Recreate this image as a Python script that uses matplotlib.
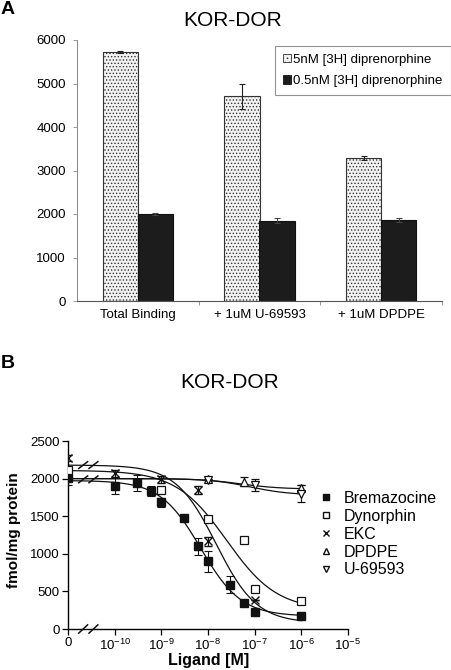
import numpy as np
import matplotlib
matplotlib.use("Agg")
import matplotlib.pyplot as plt
from matplotlib.lines import Line2D
from matplotlib.patches import Patch

plt.rcParams['font.family'] = ['Liberation Sans', 'DejaVu Sans']
plt.rcParams['mathtext.fontset'] = 'custom'
plt.rcParams['mathtext.rm'] = 'Liberation Sans'
plt.rcParams['mathtext.it'] = 'Liberation Sans:italic'
plt.rcParams['mathtext.bf'] = 'Liberation Sans:bold'
plt.rcParams['hatch.color'] = '#9a9a9a'
plt.rcParams['hatch.linewidth'] = 0.6

# ---------------- Panel A data ----------------
categories = ["Total Binding", "+ 1uM U-69593", "+ 1uM DPDPE"]
series_labels = ["5nM [3H] diprenorphine", "0.5nM [3H] diprenorphine"]
high_vals = [5720, 4710, 3280]
high_err = [30, 290, 50]
low_vals = [2000, 1850, 1860]
low_err = [30, 50, 40]

# ---------------- Panel B data ----------------
# concentrations in M; 1e-11 stands for the "0" (no ligand) point
brem_x = [1e-11, 1e-10, 3e-10, 6e-10, 1e-9, 3e-9, 6e-9, 1e-8, 3e-8, 6e-8, 1e-7, 1e-6]
brem_y = [2010, 1905, 1940, 1835, 1685, 1480, 1100, 900, 590, 350, 230, 175]
brem_e = [90, 110, 110, 60, 60, 0, 110, 140, 110, 0, 0, 0]

dyn_x = [1e-11, 1e-9, 1e-8, 6e-8, 1e-7, 1e-6]
dyn_y = [2110, 1850, 1465, 1180, 535, 370]
dyn_e = [40, 30, 0, 0, 0, 0]

ekc_x = [1e-11, 1e-10, 1e-9, 6e-9, 1e-8, 1e-7]
ekc_y = [2280, 2070, 1990, 1848, 1165, 386]
ekc_e = [40, 50, 50, 50, 60, 0]

dpdpe_x = [1e-8, 6e-8, 1e-6]
dpdpe_y = [1990, 1955, 1870]
dpdpe_e = [0, 60, 40]

u69_x = [1e-8, 1e-7, 1e-6]
u69_y = [1985, 1915, 1800]
u69_e = [0, 80, 110]

# sigmoidal fit parameters: (top, bottom, IC50 [M], Hill slope)
fit_params = {
    "Bremazocine": (1975, 170, 7e-9, 1.0),
    "Dynorphin": (2110, 250, 2.5e-8, 0.8),
    "EKC": (2180, 80, 1.5e-8, 1.0),
    "DPDPE": (2000, 1860, 5e-8, 1.0),
    "U-69593": (2000, 1780, 8e-8, 1.0),
}

x_tick_vals = [1e-11, 1e-10, 1e-9, 1e-8, 1e-7, 1e-6, 1e-5]
x_tick_labels = ["0", r"10$^{-10}$", r"10$^{-9}$", r"10$^{-8}$", r"10$^{-7}$",
                 r"10$^{-6}$", r"10$^{-5}$"]

W, H = 452, 670
fig = plt.figure(figsize=(W / 100, H / 100), dpi=100)

def fx(px):
    return px / W

def fy(py):
    return 1 - py / H

# ================= Panel A =================
axA = fig.add_axes([fx(77), fy(301), (442 - 77) / W, (301 - 40) / H])
pos = np.arange(len(categories))
bw = 0.29
axA.bar(pos - 0.145, high_vals, bw, color='#f2f2f2', edgecolor='#333333',
        linewidth=0.8, hatch='.....', zorder=2)
axA.bar(pos + 0.145, low_vals, bw, color='#1c1c1c', edgecolor='#111111',
        linewidth=0.8, zorder=2)
axA.errorbar(pos - 0.145, high_vals, yerr=high_err, fmt='none', ecolor='#222222',
             elinewidth=0.8, capsize=2, capthick=0.8, zorder=3)
axA.errorbar(pos + 0.145, low_vals, yerr=low_err, fmt='none', ecolor='#444444',
             elinewidth=0.8, capsize=2, capthick=0.8, zorder=3)
axA.set_xlim(-0.5, 2.5)
axA.set_ylim(0, 6000)
axA.set_yticks(np.arange(0, 6001, 1000))
axA.set_xticks([0.5, 1.5, 2.5])
axA.set_xticklabels([])
axA.set_xticks(pos, minor=True)
axA.set_xticklabels(categories, minor=True, fontsize=9.5)
axA.tick_params(axis='x', which='major', length=3, direction='out', width=0.6, color='#888888')
axA.tick_params(axis='x', which='minor', length=0, pad=6)
axA.tick_params(axis='y', length=3, width=0.6, labelsize=9.5, pad=5, color='#888888')
for s in ['top', 'right']:
    axA.spines[s].set_visible(False)
axA.spines['left'].set_color('#888888')
axA.spines['bottom'].set_color('#555555')
axA.spines['left'].set_linewidth(0.7)
axA.spines['bottom'].set_linewidth(0.8)

handlesA = [Patch(facecolor='#f2f2f2', edgecolor='#333333', hatch='....', linewidth=0.6),
            Patch(facecolor='#1c1c1c', edgecolor='#111111', linewidth=0.6)]
legA = fig.legend(handlesA, series_labels, loc='upper left',
                  bbox_to_anchor=(fx(275), fy(46)), fontsize=9.5, frameon=True,
                  fancybox=False, edgecolor='#777777', handlelength=0.6,
                  handleheight=0.6, handletextpad=0.2, borderpad=0.6,
                  labelspacing=0.7, borderaxespad=0)
legA.get_frame().set_linewidth(0.8)

fig.text(fx(233), fy(20), "KOR-DOR", fontsize=15, ha='center', va='center')
fig.text(fx(1), fy(10), "A", fontsize=14, fontweight='bold', ha='left', va='center')

# ================= Panel B =================
axB = fig.add_axes([fx(68), fy(629), (348 - 68) / W, (629 - 441) / H])
axB.set_xscale('log')
axB.set_xlim(1e-11, 1e-5)
axB.set_ylim(0, 2500)

xc = np.logspace(-11, -6, 400)
for name, (top, bot, ic50, hill) in fit_params.items():
    yc = bot + (top - bot) / (1 + (xc / ic50) ** hill)
    axB.plot(xc, yc, color='#111111', lw=0.9, zorder=2)

ms = 5.5
axB.errorbar(brem_x, brem_y, yerr=brem_e, fmt='s', ms=ms, mfc='#111111', mec='#111111',
             ecolor='#111111', elinewidth=0.8, capsize=3, capthick=0.8, zorder=4)
axB.errorbar(dyn_x, dyn_y, yerr=dyn_e, fmt='s', ms=ms, mfc='white', mec='#111111',
             mew=0.9, ecolor='#111111', elinewidth=0.8, capsize=3, capthick=0.8, zorder=4)
axB.errorbar(ekc_x, ekc_y, yerr=ekc_e, fmt='x', ms=ms, mec='#111111', mew=1.0,
             ecolor='#111111', elinewidth=0.8, capsize=3, capthick=0.8, zorder=4)
axB.errorbar(dpdpe_x, dpdpe_y, yerr=dpdpe_e, fmt='^', ms=ms, mfc='white', mec='#111111',
             mew=0.9, ecolor='#111111', elinewidth=0.8, capsize=3, capthick=0.8, zorder=4)
axB.errorbar(u69_x, u69_y, yerr=u69_e, fmt='v', ms=ms, mfc='white', mec='#111111',
             mew=0.9, ecolor='#111111', elinewidth=0.8, capsize=3, capthick=0.8, zorder=4)

# axis-break marks "//"
for yc0, dy in [(0, 55), (2180, 45), (1990, 45)]:
    for x0 in [-10.77, -10.55]:
        axB.plot([10 ** x0, 10 ** (x0 + 0.19)], [yc0 - dy, yc0 + dy], color='#111111',
                 lw=1.1, clip_on=False, zorder=5)

axB.set_xticks(x_tick_vals)
axB.set_xticklabels(x_tick_labels, fontsize=9.5)
axB.xaxis.set_minor_locator(matplotlib.ticker.NullLocator())
axB.set_yticks(np.arange(0, 2501, 500))
axB.tick_params(axis='y', labelsize=9.5, length=4, width=0.9, pad=2)
axB.tick_params(axis='x', length=4, width=0.9, pad=2)
for s in ['top', 'right']:
    axB.spines[s].set_visible(False)
for s in ['left', 'bottom']:
    axB.spines[s].set_linewidth(1.0)

axB.set_ylabel("fmol/mg protein", fontsize=11, fontweight='bold')
axB.yaxis.set_label_coords((21 - 68) / 280, 0.527)
axB.set_xlabel("Ligand [M]", fontsize=11.5, fontweight='bold')
axB.xaxis.set_label_coords((209 - 68) / 280, (629 - 653) / 188)

names = ["Bremazocine", "Dynorphin", "EKC", "DPDPE", "U-69593"]
handlesB = [Line2D([], [], ls='none', marker='s', ms=4, mfc='#111111', mec='#111111'),
            Line2D([], [], ls='none', marker='s', ms=4, mfc='white', mec='#111111'),
            Line2D([], [], ls='none', marker='x', ms=4, mec='#111111'),
            Line2D([], [], ls='none', marker='^', ms=4, mfc='white', mec='#111111'),
            Line2D([], [], ls='none', marker='v', ms=4, mfc='white', mec='#111111')]
fig.legend(handlesB, names, loc='upper left', bbox_to_anchor=(fx(318), fy(491)),
           frameon=False, fontsize=11.5, handlelength=1.0, handletextpad=0.6,
           labelspacing=0.18, borderpad=0, borderaxespad=0)

fig.text(fx(230), fy(382), "KOR-DOR", fontsize=15, ha='center', va='center')
fig.text(fx(1), fy(363), "B", fontsize=14, fontweight='bold', ha='left', va='center')

fig.savefig("out.png", dpi=100)
